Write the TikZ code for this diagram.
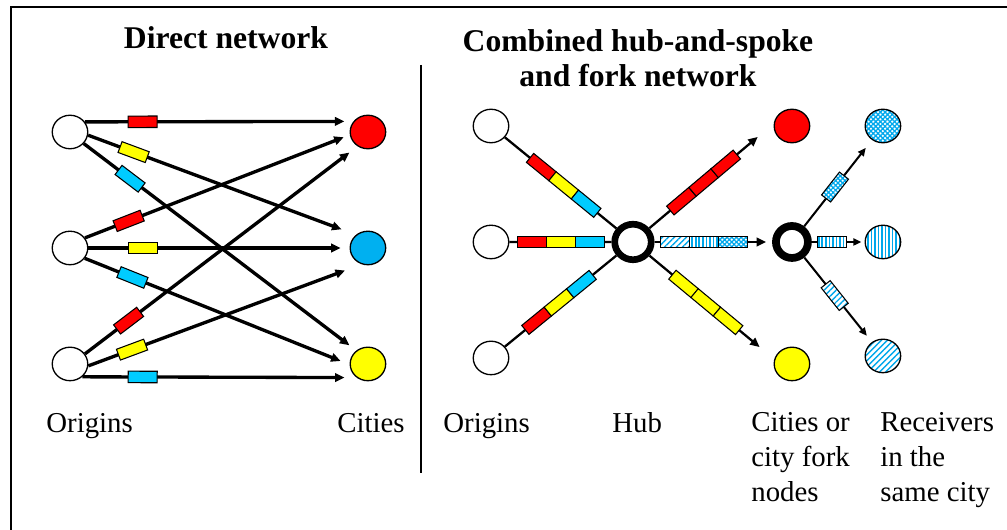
\documentclass[tikz,border=0pt]{standalone}
\usepackage{fontspec}
\setmainfont{Liberation Serif}
\usetikzlibrary{positioning, arrows.meta, shapes.geometric, patterns.meta}
\definecolor{boxRed}{HTML}{FF0000}
\definecolor{boxYellow}{HTML}{FFFF00}
\definecolor{boxCyan}{HTML}{00CCFF}
\definecolor{cityBlue}{HTML}{00B0F0}
\definecolor{hatchBlue}{HTML}{00A8EC}

\begin{document}
\begin{tikzpicture}[
    x=0.02cm, y=-0.02cm,
    >={Triangle[length=5.4pt,width=4.8pt]},
    node distance=2.32cm, on grid,
    site/.style={ellipse, draw, line width=0.75pt, fill=#1, minimum width=0.71cm, minimum height=0.67cm, inner sep=0pt},
    site/.default=white,
    hubnode/.style={ellipse, draw, fill=white, line width=3.8pt, minimum width=0.73cm, minimum height=0.71cm, inner sep=0pt},
    forknode/.style={ellipse, draw, fill=white, line width=4.4pt, minimum width=0.64cm, minimum height=0.64cm, inner sep=0pt},
    cargo/.style={draw, line width=0.6pt, fill=#1, minimum width=0.58cm, minimum height=0.23cm, inner sep=0pt, sloped},
    slashed/.style={preaction={fill=white}, pattern={Lines[angle=45,distance=2.4pt,line width=0.8pt]}, pattern color=hatchBlue},
    ruled/.style={preaction={fill=white}, pattern={Lines[angle=90,distance=2pt,line width=0.9pt]}, pattern color=hatchBlue},
    checked/.style={preaction={fill=white}, pattern={Hatch[angle=45,distance=1.9pt,line width=0.75pt]}, pattern color=hatchBlue},
    direct/.style={->, line width=1.9pt},
    spoke/.style={line width=1.3pt},
    fine/.style={line width=1.15pt, -{Triangle[length=4.6pt,width=4pt]}},
    namefont/.style={font=\fontsize{16.4}{19.8}\selectfont, inner sep=0pt, align=left},
    heading/.style={font=\fontsize{18}{20}\selectfont\bfseries, inner sep=0pt, align=center}
]
    \useasboundingbox (0,0) rectangle (1007,530);

    % Frame and divider
    \draw[line width=1.1pt] (11,530) -- (11,7) -- (1007,7);
    \draw[line width=0.9pt] (421,65) -- (421,473);

    % Titles
    \node[heading, anchor=base] (t1) at (226,49) {Direct network};
    \node[heading] (t2) at (638,58) {Combined hub-and-spoke\\and fork network};

    % Direct network: origins and cities
    \node[site] (o1) at (70,132) {};
    \node[site, below=of o1] (o2) {};
    \node[site, below=of o2] (o3) {};
    \node[site=boxRed, right=5.96cm of o1] (cr) {};
    \node[site=cityBlue, below=of cr] (cb) {};
    \node[site=boxYellow, below=of cb] (cy) {};

    % Direct shipments
    \path (o1.34) edge[direct, shorten >=5.1pt] node[cargo=boxRed, pos=.215] {} (cr.144)
          (o1.-10) edge[direct, shorten >=8.8pt] node[cargo=boxYellow, pos=.17] {} (cb.132)
          (o1.-40) edge[direct, shorten >=4.9pt] node[cargo=boxCyan, pos=.17] {} (cy.131)
          (o2.34) edge[direct, shorten >=3.7pt] node[cargo=boxRed, pos=.165] {} (cr.189)
          (o2.east) edge[direct, shorten >=5.1pt] node[cargo=boxYellow, pos=.21] {} (cb.west)
          (o2.-35) edge[direct, shorten >=5.5pt] node[cargo=boxCyan, pos=.18] {} (cy.182)
          (o3.34) edge[direct, shorten >=5.8pt] node[cargo=boxRed, pos=.16] {} (cr.-126)
          (o3.-6) edge[direct, shorten >=10.1pt] node[cargo=boxYellow, pos=.16] {} (cb.-111)
          (o3.-46) edge[direct, shorten >=6.8pt] node[cargo=boxCyan, pos=.22] {} (cy.-130);

    % Hub-and-spoke and fork: nodes
    \node[site] (ro1) at (491,126) {};
    \node[site, below=of ro1] (ro2) {};
    \node[site, below=of ro2] (ro3) {};
    \node[hubnode, right=2.84cm of ro2] (hub) {};
    \node[forknode, right=3.18cm of hub] (fork) {};
    \node[site=boxRed, above=of fork] (cr2) {};
    \node[site=boxYellow, below=2.44cm of fork] (cy2) {};
    \node[site, ruled, right=1.82cm of fork] (rv2) {};
    \node[site, checked, above=of rv2] (rv1) {};
    \node[site, slashed, below=2.28cm of rv2] (rv3) {};

    % Spokes into the hub
    \draw[spoke] (ro1) -- (hub) (ro2) -- (hub) (ro3) -- (hub);
    \path (ro1.center) -- (hub.center)
        node[cargo=boxRed, pos=.354] {} node[cargo=boxYellow, pos=.512] {} node[cargo=boxCyan, pos=.670] {};
    \path (ro2.center) -- (hub.center)
        node[cargo=boxRed, pos=.289] {} node[cargo=boxYellow, pos=.493] {} node[cargo=boxCyan, pos=.697] {};
    \path (ro3.center) -- (hub.center)
        node[cargo=boxRed, pos=.321] {} node[cargo=boxYellow, pos=.479] {} node[cargo=boxCyan, pos=.637] {};

    % Out of the hub
    \draw[spoke, ->, shorten >=11.9pt] (hub) -- (cr2.172);
    \draw[spoke, ->, shorten >=10.8pt] (hub) -- (cy2.165);
    \draw[spoke, ->, shorten >=3.4pt] (hub) -- (fork);
    \path (hub.center) -- (cr2.172)
        node[cargo=boxRed, pos=.344] {} node[cargo=boxRed, pos=.502] {} node[cargo=boxRed, pos=.659] {};
    \path (hub.center) -- (cy2.165)
        node[cargo=boxYellow, pos=.358] {} node[cargo=boxYellow, pos=.515] {} node[cargo=boxYellow, pos=.673] {};
    \path (hub.center) -- (fork.center)
        node[cargo=white, slashed, pos=.264] {} node[cargo=white, ruled, pos=.447] {} node[cargo=white, checked, pos=.629] {};

    % Fork to receivers
    \path (fork) edge[fine, shorten >=5.7pt] node[cargo=white, checked, pos=.455] {} (rv1)
          (fork) edge[fine, shorten >=1.7pt] node[cargo=white, ruled, pos=.38] {} (rv2)
          (fork) edge[fine, shorten >=4.5pt] node[cargo=white, slashed, pos=.45] {} (rv3);

    % Captions
    \node[namefont, anchor=base west] (l1) at (46,432) {Origins};
    \node[namefont, anchor=base east] (l2) at (405,432) {Cities};
    \node[namefont, anchor=base west] (l3) at (443,432) {Origins};
    \node[namefont, anchor=base west] (l4) at (612,432) {Hub};
    \node[namefont, anchor=north west] (l5) at (751,412) {Cities or\\city fork\\nodes};
    \node[namefont, anchor=north west] (l6) at (880,412) {Receivers\\in the\\same city};
\end{tikzpicture}
\end{document}
